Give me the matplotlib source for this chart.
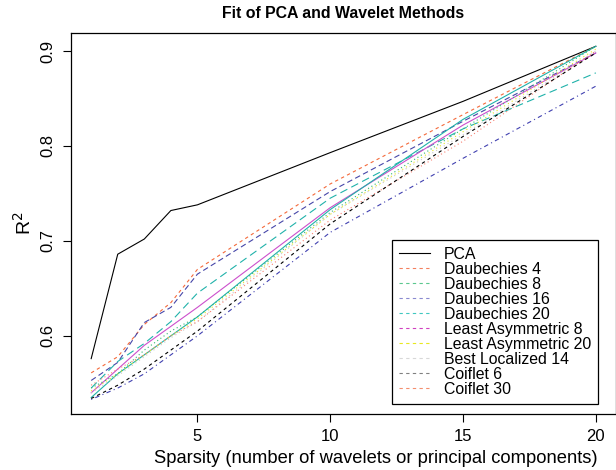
import numpy as np
import matplotlib
matplotlib.use("Agg")
import matplotlib.pyplot as plt
from matplotlib.lines import Line2D

plt.rcParams['font.family'] = ['Liberation Sans', 'DejaVu Sans']

# sparsity levels
sparsity = [1, 2, 3, 4, 5, 10, 15, 20]

# R^2 values
pca = [0.576, 0.686, 0.702, 0.732, 0.738, 0.793, 0.847, 0.905]
daub4 = [0.561, 0.578, 0.612, 0.635, 0.670, 0.760, 0.833, 0.905]
daub8 = [0.545, 0.560, 0.585, 0.605, 0.620, 0.730, 0.818, 0.905]
daub16 = [0.553, 0.572, 0.614, 0.630, 0.665, 0.752, 0.826, 0.898]
daub20 = [0.545, 0.573, 0.592, 0.615, 0.645, 0.745, 0.818, 0.877]
la8 = [0.540, 0.565, 0.590, 0.610, 0.630, 0.735, 0.822, 0.898]
la20 = [0.542, 0.560, 0.580, 0.600, 0.618, 0.728, 0.815, 0.902]
bl14 = [0.540, 0.558, 0.578, 0.598, 0.615, 0.728, 0.812, 0.900]
coif6 = [0.534, 0.548, 0.565, 0.585, 0.605, 0.718, 0.810, 0.898]
coif30 = [0.548, 0.565, 0.580, 0.600, 0.615, 0.722, 0.805, 0.900]
extra_solid = [0.535, 0.560, 0.580, 0.600, 0.620, 0.733, 0.828, 0.905]
extra_dashdot = [0.533, 0.545, 0.560, 0.580, 0.600, 0.709, 0.787, 0.863]

labels = ["PCA", "Daubechies 4", "Daubechies 8", "Daubechies 16", "Daubechies 20",
          "Least Asymmetric 8", "Least Asymmetric 20", "Best Localized 14",
          "Coiflet 6", "Coiflet 30"]
legend_colors = ["black", "#f4805f", "#5bc88f", "#8a8ad0", "#40c8c0",
                 "#d040c0", "#e8e820", "#d8d8d8", "#808080", "#f4906f"]

fig = plt.figure(figsize=(6.16, 4.70), dpi=100)
ax = fig.add_axes([71 / 616, 1 - 413.7 / 470, 1 - 71 / 616, (413.7 - 33) / 470])

lw = 0.8
ax.plot(sparsity, pca, color="black", lw=lw)
ax.plot(sparsity, daub4, color="#f4693a", lw=lw, dashes=(3, 3))
ax.plot(sparsity, daub16, color="#4646a8", lw=lw, dashes=(5, 3))
ax.plot(sparsity, daub20, color="#20b2aa", lw=lw, dashes=(7, 4))
ax.plot(sparsity, la8, color="#cc4fcc", lw=lw)
ax.plot(sparsity, extra_solid, color="#20b2aa", lw=lw)
ax.plot(sparsity, daub8, color="#2eb872", lw=lw, dashes=(1, 2.5))
ax.plot(sparsity, la20, color="#e8e820", lw=lw, dashes=(1, 3))
ax.plot(sparsity, bl14, color="#c8c8c8", lw=lw, dashes=(1, 3))
ax.plot(sparsity, coif30, color="#fa8072", lw=lw, dashes=(1, 2.5))
ax.plot(sparsity, coif6, color="black", lw=lw, dashes=(3, 3))
ax.plot(sparsity, extra_dashdot, color="#4040b0", lw=lw, dashes=(1, 3, 4, 3))

ax.set_xlim(0.24, 20.76)
ax.set_ylim(0.518, 0.919)
ax.set_xticks([5, 10, 15, 20])
ax.set_yticks([0.6, 0.7, 0.8, 0.9])
ax.set_yticklabels(["0.6", "0.7", "0.8", "0.9"], rotation=90, va="center")
ax.tick_params(direction="out", length=5.8, width=0.8, labelsize=12, pad=5.5)
for s in ax.spines.values():
    s.set_linewidth(0.9)

ax.set_title("Fit of PCA and Wavelet Methods", fontsize=11.4, fontweight="bold", pad=11)
ax.set_xlabel("Sparsity (number of wavelets or principal components)", fontsize=13.2, labelpad=1)
ax.xaxis.set_label_coords(0.56, -0.095)
ax.set_ylabel("R$^2$", fontsize=14, labelpad=4)

handles = [Line2D([], [], color="black", lw=lw)]
for c in legend_colors[1:]:
    handles.append(Line2D([], [], color=c, lw=lw, dashes=(3, 3)))
leg = ax.legend(handles, labels, loc="lower right",
                bbox_to_anchor=(598 / 616, 1 - 404 / 470),
                bbox_transform=fig.transFigure, fontsize=11.4, frameon=True,
                fancybox=False, edgecolor="black", framealpha=1,
                handlelength=1.9, handletextpad=0.89, labelspacing=0.0,
                borderpad=0.45, borderaxespad=0)
leg.get_frame().set_linewidth(0.9)

fig.savefig("out.png", dpi=100)
